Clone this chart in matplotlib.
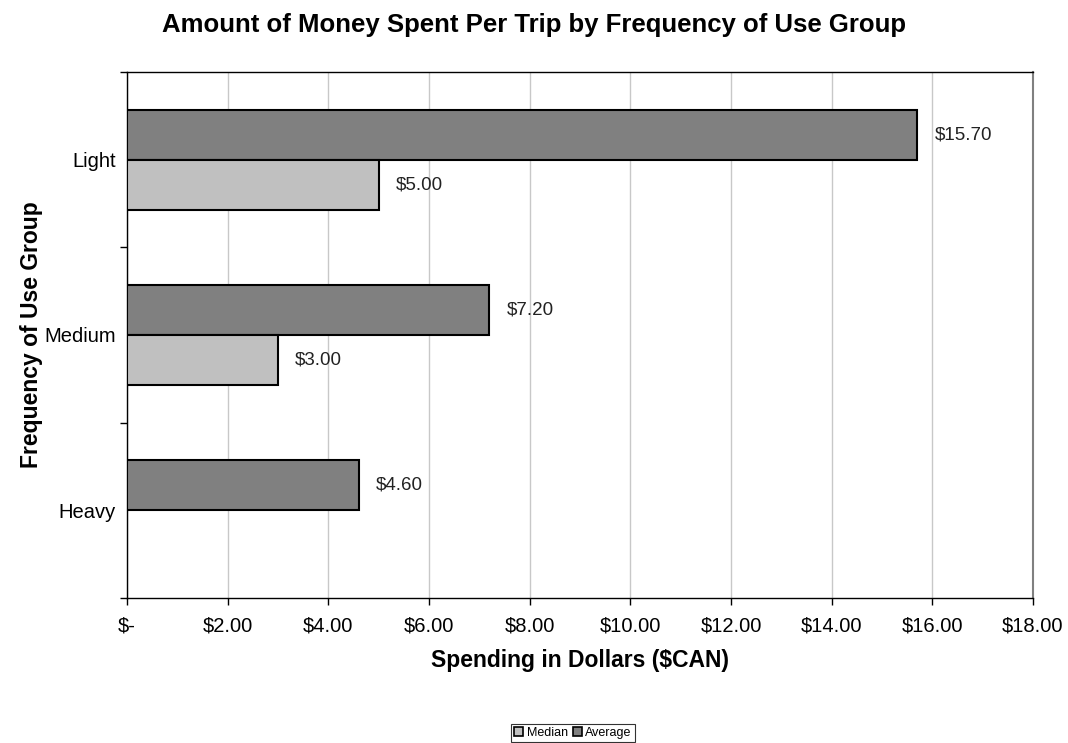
import matplotlib
matplotlib.use("Agg")
import matplotlib.pyplot as plt
from matplotlib.patches import Patch
from matplotlib.ticker import FuncFormatter, FixedLocator

plt.rcParams['font.family'] = ['Liberation Sans', 'DejaVu Sans']

categories = ["Heavy", "Medium", "Light"]
average = [4.60, 7.20, 15.70]
median = [None, 3.00, 5.00]
x_ticks = [0, 2, 4, 6, 8, 10, 12, 14, 16, 18]

fig = plt.figure(figsize=(10.68, 7.43), dpi=100)
ax = fig.add_axes([127/1068, 1-598/743, (1033-127)/1068, (598-72)/743])

h = 0.285
ypos = list(range(len(categories)))
avg_color = "#808080"
med_color = "#c0c0c0"

ax.set_axisbelow(True)
ax.xaxis.grid(True, color="#c8c8c8", linewidth=1)

ax.barh([y + h/2 for y in ypos], average, height=h, color=avg_color,
        edgecolor="black", linewidth=1.5, zorder=3)
med_y = [y - h/2 for y, v in zip(ypos, median) if v is not None]
med_v = [v for v in median if v is not None]
ax.barh(med_y, med_v, height=h, color=med_color, edgecolor="black",
        linewidth=1.5, zorder=3)

for y, v in zip(ypos, average):
    ax.text(v + 0.34, y + h/2, f"${v:.2f}", va="center", ha="left",
            fontsize=13.5, color="#222222")
for y, v in zip(med_y, med_v):
    ax.text(v + 0.34, y, f"${v:.2f}", va="center", ha="left",
            fontsize=13.5, color="#222222")

ax.set_xlim(0, 18)
ax.set_ylim(-0.5, 2.5)
ax.xaxis.set_major_locator(FixedLocator(x_ticks))
ax.xaxis.set_major_formatter(FuncFormatter(lambda v, p: "$-" if v == 0 else f"${v:.2f}"))

ax.set_yticks([-0.5, 0.5, 1.5, 2.5])
ax.set_yticklabels([])
ax.set_yticks(ypos, minor=True)
ax.set_yticklabels(categories, minor=True)
ax.tick_params(axis="y", which="minor", length=0, pad=8, labelsize=14.5)
ax.tick_params(axis="y", which="major", length=5, width=1, color="black")
ax.tick_params(axis="x", length=5, width=1, labelsize=14.5, pad=8)

for s in ["left", "bottom", "top"]:
    ax.spines[s].set_color("black")
    ax.spines[s].set_linewidth(1)
ax.spines["right"].set_color("#808080")
ax.spines["right"].set_linewidth(1.5)

ax.set_xlabel("Spending in Dollars ($CAN)", fontsize=16.5, fontweight="bold", labelpad=10)
ax.set_ylabel("Frequency of Use Group", fontsize=16.5, fontweight="bold", labelpad=1)
fig.text(0.5, 1-25/743, "Amount of Money Spent Per Trip by Frequency of Use Group",
         ha="center", va="center", fontsize=18.5, fontweight="bold")

handles = [Patch(facecolor=med_color, edgecolor="black", linewidth=1.2, label="Median"),
           Patch(facecolor=avg_color, edgecolor="black", linewidth=1.2, label="Average")]
leg = fig.legend(handles=handles, loc="center", bbox_to_anchor=(573/1068, 1-733/743),
                 ncol=2, fontsize=9, frameon=True, fancybox=False, edgecolor="black",
                 handlelength=0.7, handleheight=0.7, handletextpad=0.3, columnspacing=0.4,
                 borderpad=0.25, borderaxespad=0)
leg.get_frame().set_linewidth(0.8)

fig.savefig("out.png", dpi=100)
